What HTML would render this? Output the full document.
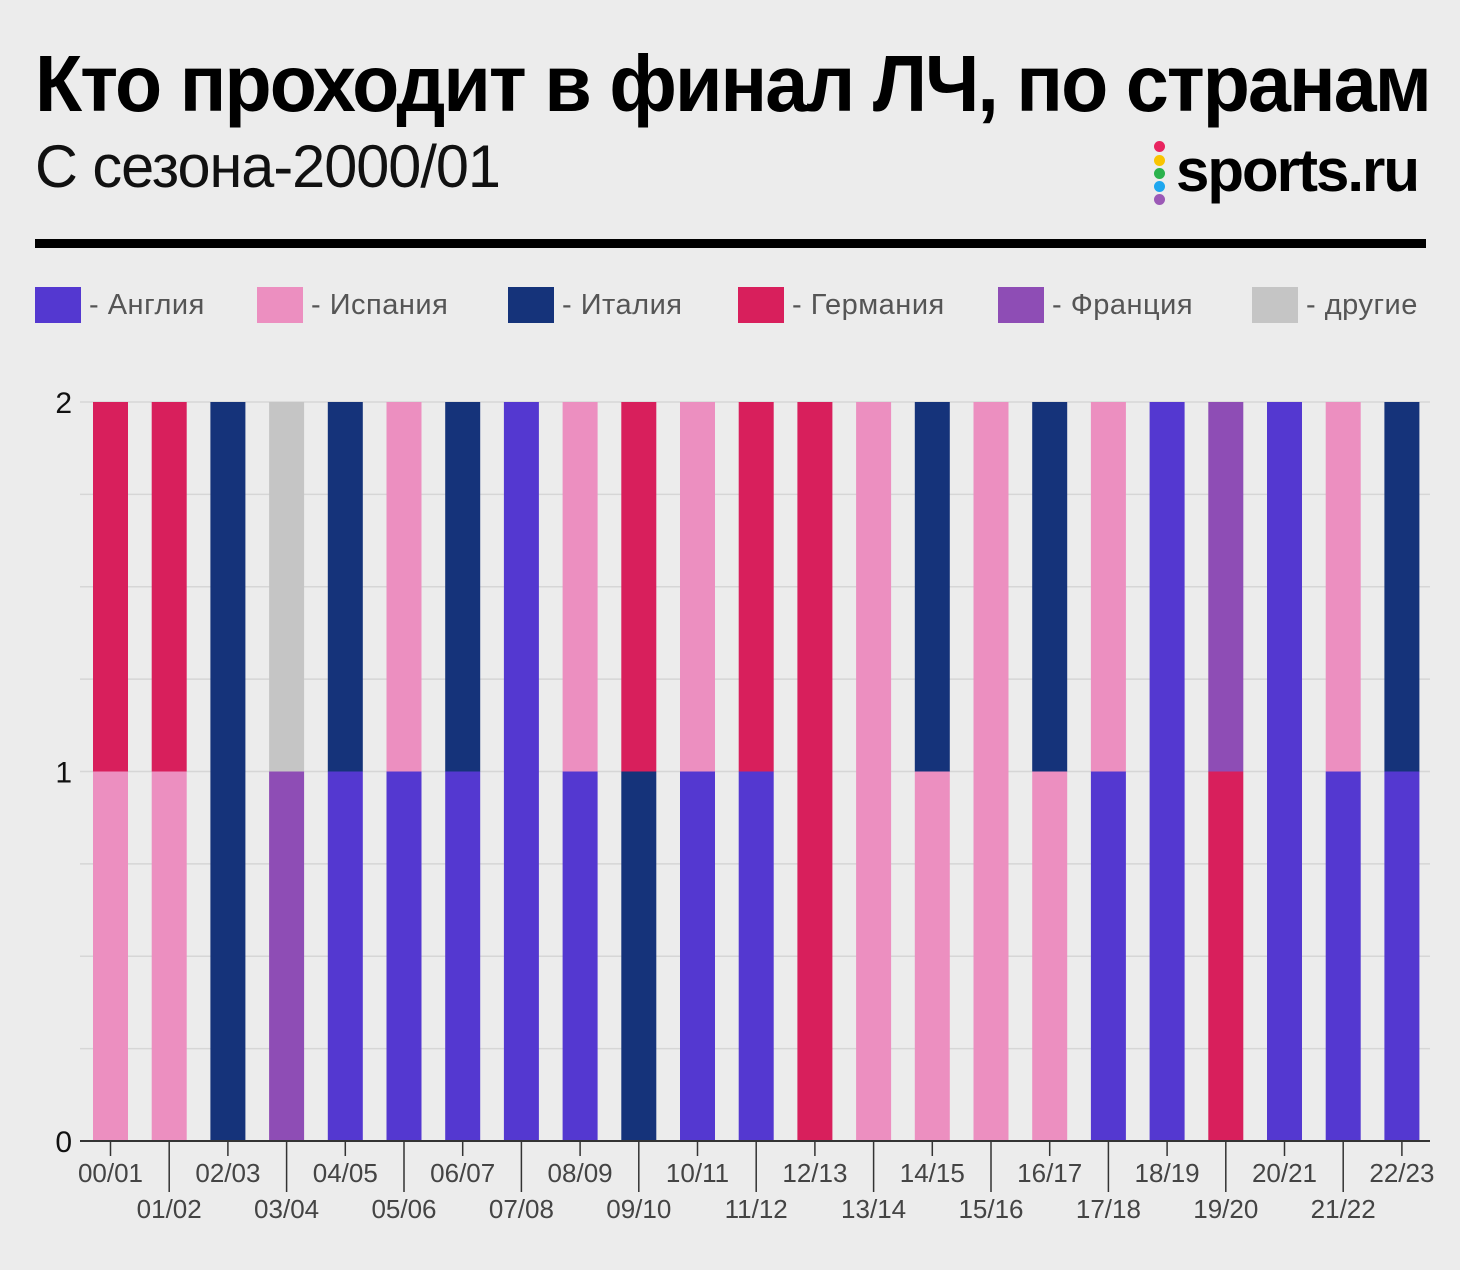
<!DOCTYPE html>
<html><head><meta charset="utf-8"><style>
body{margin:0;width:1460px;height:1270px;background:#ececec;font-family:"Liberation Sans",sans-serif;position:relative;overflow:hidden}
.t{position:absolute;left:35px;top:38px;font-size:80px;font-weight:bold;letter-spacing:-2px;white-space:nowrap;transform-origin:0 0;transform:scaleX(0.965);color:#000}
.s{position:absolute;left:35px;top:132px;font-size:60px;color:#111;white-space:nowrap;transform-origin:0 0;transform:scaleX(0.99);letter-spacing:-1px}
.logo{position:absolute;left:1176px;top:136px;font-size:60px;font-weight:bold;letter-spacing:-2px;color:#000}
.dot{position:absolute;left:1154px;width:11px;height:11px;border-radius:50%}
.rule{position:absolute;left:35px;top:239px;width:1391px;height:9px;background:#000}
.leg{position:absolute;top:287px;height:36px;display:flex;align-items:center;font-size:29px;color:#555;white-space:nowrap;letter-spacing:0.5px}
.leg i{display:inline-block;width:46px;height:36px;margin-right:8px}
</style></head><body>
<div class="t">Кто проходит в финал ЛЧ, по странам</div>
<div class="s">С сезона-2000/01</div>
<div>
<div class="dot" style="top:141px;background:#e8245f"></div>
<div class="dot" style="top:155px;background:#f9c400"></div>
<div class="dot" style="top:168px;background:#2bb24c"></div>
<div class="dot" style="top:181px;background:#1ea7ef"></div>
<div class="dot" style="top:194px;background:#9b59b6"></div>
<div class="logo">sports.ru</div></div>
<div class="rule"></div>
<div class="leg" style="left:35px"><i style="background:#5438d0"></i>- Англия</div>
<div class="leg" style="left:257px"><i style="background:#ec8fc0"></i>- Испания</div>
<div class="leg" style="left:508px"><i style="background:#15337a"></i>- Италия</div>
<div class="leg" style="left:738px"><i style="background:#d81f5c"></i>- Германия</div>
<div class="leg" style="left:998px"><i style="background:#8e4db5"></i>- Франция</div>
<div class="leg" style="left:1252px"><i style="background:#c5c5c5"></i>- другие</div>
<svg id="chart" width="1460" height="1270" style="position:absolute;left:0;top:0"></svg>
<script>
const seasons=["00/01","01/02","02/03","03/04","04/05","05/06","06/07","07/08","08/09","09/10","10/11","11/12","12/13","13/14","14/15","15/16","16/17","17/18","18/19","19/20","20/21","21/22","22/23"];
const england=[0,0,0,0,1,1,1,2,1,0,1,1,0,0,0,0,0,1,2,0,2,1,1];
const spain  =[1,1,0,0,0,1,0,0,1,0,1,0,0,2,1,2,1,1,0,0,0,1,0];
const italy  =[0,0,2,0,1,0,1,0,0,1,0,0,0,0,1,0,1,0,0,0,0,0,1];
const germany=[1,1,0,0,0,0,0,0,0,1,0,1,2,0,0,0,0,0,0,1,0,0,0];
const france =[0,0,0,1,0,0,0,0,0,0,0,0,0,0,0,0,0,0,0,1,0,0,0];
const other  =[0,0,0,1,0,0,0,0,0,0,0,0,0,0,0,0,0,0,0,0,0,0,0];
const yTicks=[0,1,2];
const NS="http://www.w3.org/2000/svg",svg=document.getElementById("chart");
const x0=110.5,step=58.7,bw=35,yB=1141,yT=402,yMax=2;
const X=i=>x0+i*step, Y=v=>yB-(v/yMax)*(yB-yT);
function mk(t,a){const e=document.createElementNS(NS,t);for(const k in a)e.setAttribute(k,a[k]);svg.appendChild(e);return e;}
for(let g=0;g<=8;g++){const l=mk("line",{x1:80,x2:1430,y1:Y(g*0.25),y2:Y(g*0.25),stroke:"#d6d6d6","stroke-width":1.5});

}
yTicks.forEach(v=>{const t=mk("text",{x:72,y:Y(v)+11,"text-anchor":"end","font-size":30,fill:"#111"});t.textContent=v;

});
const series=[["england",england,"#5438d0"],["spain",spain,"#ec8fc0"],["italy",italy,"#15337a"],["germany",germany,"#d81f5c"],["france",france,"#8e4db5"],["other",other,"#c5c5c5"]];
seasons.forEach((s,i)=>{let acc=0;
series.forEach(([n,arr,c])=>{const v=arr[i];if(!v)return;
const r=mk("rect",{x:X(i)-bw/2,y:Y(acc+v),width:bw,height:Y(acc)-Y(acc+v),fill:c});


acc+=v;});
const odd=i%2==1;
const t2=mk("line",{x1:X(i),x2:X(i),y1:yB,y2:odd?1192:1156,stroke:"#333","stroke-width":1.5});


const lb=mk("text",{x:X(i),y:odd?1218:1182,"text-anchor":"middle","font-size":26,fill:"#444"});lb.textContent=s;

});
const ax=mk("line",{x1:80,x2:1430,y1:yB,y2:yB,stroke:"#333","stroke-width":2});


</script>
</body></html>
